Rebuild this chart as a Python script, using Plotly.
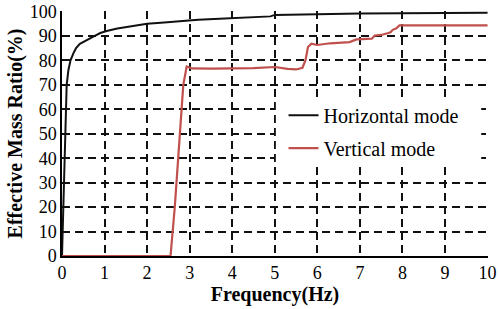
import plotly.graph_objects as go

# Horizontal mode: cumulative effective mass ratio (%)
h_freq = [0.0, 0.02, 0.04, 0.07, 0.11, 0.15, 0.20, 0.27, 0.33, 0.42, 0.54, 0.65, 0.77, 0.90, 1.05, 1.3, 1.64, 2.0, 2.4, 2.7, 3.2, 3.7, 4.2, 4.9, 5.0, 5.5, 6.0, 7.0, 8.0, 9.0, 10.0]
h_ratio = [0.0, 12.0, 30.0, 45.0, 70.0, 76.0, 80.0, 83.0, 85.0, 86.8, 88.0, 89.0, 90.0, 91.2, 92.0, 93.0, 94.0, 95.0, 95.5, 96.0, 96.6, 97.0, 97.5, 98.0, 98.6, 98.8, 99.0, 99.2, 99.3, 99.4, 99.5]

# Vertical mode: cumulative effective mass ratio (%)
v_freq = [0.0, 2.55, 2.65, 2.75, 2.85, 2.93, 2.97, 3.05, 3.5, 4.0, 4.5, 5.0, 5.3, 5.5, 5.65, 5.72, 5.78, 5.86, 6.0, 6.3, 6.76, 6.92, 7.0, 7.28, 7.35, 7.5, 7.65, 7.72, 7.77, 7.85, 7.93, 8.0, 9.0, 10.0]
v_ratio = [0.0, 0.0, 20.0, 45.0, 70.0, 77.5, 77.2, 76.7, 76.6, 76.6, 76.8, 77.3, 76.5, 76.3, 77.0, 80.0, 85.5, 86.8, 86.3, 87.0, 87.5, 88.6, 88.7, 88.9, 90.2, 90.4, 91.1, 91.5, 92.5, 93.0, 94.3, 94.3, 94.3, 94.3]

x_ticks = [0, 1, 2, 3, 4, 5, 6, 7, 8, 9, 10]
y_ticks = [0, 10, 20, 30, 40, 50, 60, 70, 80, 90, 100]

FONT = "Liberation Serif"

fig = go.Figure()
fig.add_trace(go.Scatter(x=h_freq, y=h_ratio, mode="lines", name="Horizontal mode",
                         line=dict(color="#111111", width=2), legend="legend"))
fig.add_trace(go.Scatter(x=v_freq, y=v_ratio, mode="lines", name="Vertical mode",
                         line=dict(color="#C0504D", width=2.2), legend="legend2"))

grid = dict(showgrid=True, gridcolor="#111111", gridwidth=1.5, griddash="8px,5px")
leg = dict(xanchor="left", yanchor="middle", bgcolor="rgba(255,255,255,0)",
           font=dict(size=20, family=FONT), itemwidth=30)

fig.update_layout(
    width=498, height=309,
    margin=dict(l=62, r=10, t=11, b=53),
    paper_bgcolor="white", plot_bgcolor="white",
    font=dict(family=FONT, color="black", size=18),
    showlegend=True,
    legend=dict(x=0.52, y=0.575, **leg),
    legend2=dict(x=0.52, y=0.44, **leg),
    # white legend box that hides the gridlines behind the legend
    shapes=[dict(type="rect", xref="paper", yref="paper", x0=0.502, x1=0.984, y0=0.38, y1=0.637,
                 fillcolor="white", line=dict(width=0), layer="above")],
    xaxis=dict(range=[0, 10.01], tickvals=x_ticks, ticktext=[str(v) for v in x_ticks],
               showline=True, linecolor="black", linewidth=1.5, zeroline=False, automargin=False,
               ticklabeloverflow="allow",
               ticks="", title=dict(text="<b>Frequency(Hz)</b>", font=dict(size=20, family=FONT), standoff=4),
               **grid),
    yaxis=dict(range=[0, 100.2], tickvals=y_ticks, ticktext=[str(v) for v in y_ticks],
               showline=True, linecolor="black", linewidth=1.5, zeroline=False, automargin=False,
               ticklabeloverflow="allow",
               ticks="", title=dict(text="<b>Effective Mass Ratio(%)</b>", font=dict(size=20, family=FONT), standoff=2),
               **grid),
)

fig.write_html("out.html", config={"displayModeBar": False},
               post_script="document.body.style.margin='0';")
